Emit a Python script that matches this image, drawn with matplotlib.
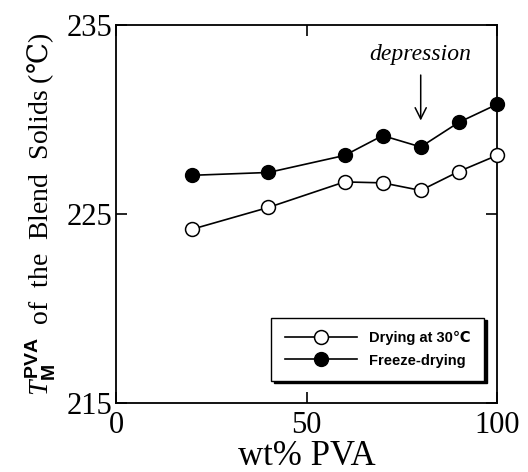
import matplotlib.pyplot as plt

# wt% PVA and melting temperature of PVA in the blend solids
wt_pva = [20, 40, 60, 70, 80, 90, 100]
tm_dry30 = [224.2, 225.35, 226.7, 226.65, 226.25, 227.25, 228.1]
tm_freeze = [227.05, 227.2, 228.1, 229.15, 228.55, 229.85, 230.8]

xticks = [0, 50, 100]
yticks = [215, 225, 235]

serif = ['Liberation Serif', 'DejaVu Serif', 'DejaVu Sans']
plt.rcParams['font.family'] = serif
plt.rcParams['mathtext.fontset'] = 'custom'
plt.rcParams['mathtext.it'] = 'Liberation Serif:italic'
plt.rcParams['mathtext.rm'] = 'Liberation Serif'
plt.rcParams['mathtext.bf'] = 'Liberation Sans:bold'
plt.rcParams['mathtext.sf'] = 'DejaVu Serif'

fig = plt.figure(figsize=(5.28, 4.72), dpi=100)
ax = fig.add_axes([0.220, 0.146, 0.721, 0.801])

ax.plot(wt_pva, tm_dry30, '-o', color='black', lw=1.2, ms=10,
        mfc='white', mec='black', mew=1.1, label='Drying at 30\u2103',
        clip_on=False, zorder=3)
ax.plot(wt_pva, tm_freeze, '-o', color='black', lw=1.2, ms=10,
        mfc='black', mec='black', label='Freeze-drying',
        clip_on=False, zorder=3)

ax.set_xlim(0, 100)
ax.set_ylim(215, 235)
ax.set_xticks(xticks)
ax.set_yticks(yticks)
ax.tick_params(direction='in', length=8, width=1.2, labelsize=22,
               top=True, right=True, pad=3)
ax.tick_params(axis='x', pad=6)
for s in ax.spines.values():
    s.set_linewidth(1.3)

ax.set_xlabel('wt% PVA', fontsize=25, labelpad=0)
ax.set_ylabel('$T_{\\mathbf{M}}^{\\mathbf{PVA}}$  of  the  Blend  Solids '
              '($\\mathsf{\u2103}$)', fontsize=20, labelpad=6)

# depression marker at 80 wt%
ax.annotate('', xy=(80, 229.8), xytext=(80, 232.5),
            arrowprops=dict(arrowstyle='->', color='black', lw=1.1,
                            mutation_scale=20))
ax.text(80, 232.9, 'depression', fontsize=17, style='italic',
        ha='center', va='bottom')

leg = ax.legend(loc='lower right', bbox_to_anchor=(0.985, 0.04),
                fancybox=False, edgecolor='black', framealpha=1,
                shadow={'color': 'black', 'alpha': 1},
                handlelength=5, borderpad=0.9, labelspacing=0.6,
                prop={'family': ['Liberation Sans', 'DejaVu Sans'],
                      'size': 10.5, 'weight': 'bold'})
leg.get_frame().set_linewidth(1.0)

fig.savefig('out.png', dpi=100)
